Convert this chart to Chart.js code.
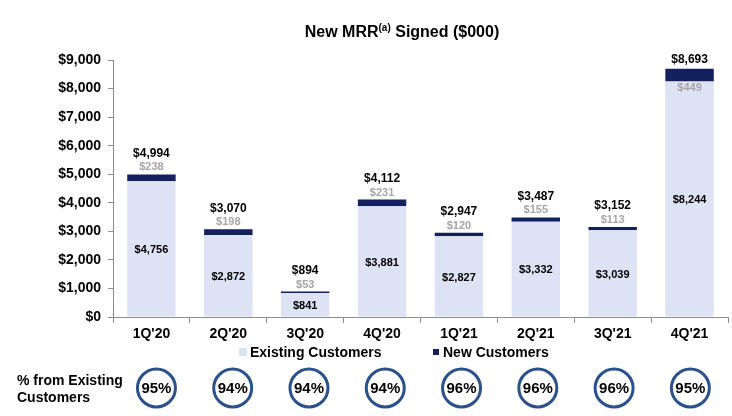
<!DOCTYPE html>
<html>
<head>
<meta charset="utf-8">
<script src="https://cdn.jsdelivr.net/npm/chart.js@4/dist/chart.umd.min.js"></script>
<style>
  body { margin: 0; background: #fff; }
  #wrap { width: 732px; height: 416px; position: relative; }
</style>
</head>
<body>
<div id="wrap"><canvas id="mrrChart"></canvas></div>
<script>
const categories = ["1Q'20", "2Q'20", "3Q'20", "4Q'20", "1Q'21", "2Q'21", "3Q'21", "4Q'21"];
const existingCustomers = [4756, 2872, 841, 3881, 2827, 3332, 3039, 8244];
const newCustomers = [238, 198, 53, 231, 120, 155, 113, 449];
const totals = [4994, 3070, 894, 4112, 2947, 3487, 3152, 8693];
const pctFromExisting = [95, 94, 94, 94, 96, 96, 96, 95];
const yTicks = [0, 1000, 2000, 3000, 4000, 5000, 6000, 7000, 8000, 9000];

const FONT = '"Liberation Sans", Arial, sans-serif';
const LIGHT = '#dde3f5';
const DARK = '#15205e';
const RING = '#2a5189';

const money = v => '$' + v.toLocaleString('en-US');

// labels, title, legend and the circle row
const extras = {
    id: 'extras',
    afterDraw(chart) {
        const ctx = chart.ctx;
        const x = chart.scales.x;
        const y = chart.scales.y;
        ctx.save();
        ctx.textAlign = 'center';
        ctx.textBaseline = 'middle';

        // title
        ctx.fillStyle = '#000';
        ctx.font = 'bold 16px ' + FONT;
        ctx.textAlign = 'left';
        const t1 = 'New MRR', t2 = '(a)', t3 = ' Signed ($000)';
        const w1 = ctx.measureText(t1).width;
        const w3 = ctx.measureText(t3).width;
        ctx.font = 'bold 10px ' + FONT;
        const w2 = ctx.measureText(t2).width;
        let tx = 402 - (w1 + w2 + w3) / 2;
        ctx.font = 'bold 16px ' + FONT;
        ctx.fillText(t1, tx, 33);
        ctx.font = 'bold 10px ' + FONT;
        ctx.fillText(t2, tx + w1, 28);
        ctx.font = 'bold 16px ' + FONT;
        ctx.fillText(t3, tx + w1 + w2, 33);
        ctx.textAlign = 'center';

        categories.forEach((c, i) => {
            const cx = x.getPixelForValue(i);
            const top = y.getPixelForValue(totals[i]);
            const exTop = y.getPixelForValue(existingCustomers[i]);
            const base = y.getPixelForValue(0);
            const inside = i === categories.length - 1;

            ctx.font = 'bold 12px ' + FONT;
            ctx.fillStyle = '#000';
            ctx.fillText(money(totals[i]), cx, inside ? top - 9 : top - 21);

            ctx.font = 'bold 11px ' + FONT;
            ctx.fillStyle = '#a6a6a6';
            ctx.fillText(money(newCustomers[i]), cx, inside ? exTop + 6 : top - 7);

            ctx.fillStyle = '#000';
            ctx.fillText(money(existingCustomers[i]), cx, (exTop + base) / 2 + 1);

            // circle row
            const ccx = cx + 5 - i * 0.6;
            ctx.beginPath();
            ctx.arc(ccx, 388, 19, 0, Math.PI * 2);
            ctx.lineWidth = 3;
            ctx.strokeStyle = RING;
            ctx.stroke();
            ctx.font = 'bold 15px ' + FONT;
            ctx.fillStyle = '#000';
            ctx.fillText(pctFromExisting[i] + '%', ccx, 389);
        });

        // legend
        ctx.textAlign = 'left';
        ctx.font = 'bold 14px ' + FONT;
        ctx.fillStyle = LIGHT;
        ctx.fillRect(239, 348, 8, 8);
        ctx.fillStyle = '#000';
        ctx.fillText('Existing Customers', 250, 353);
        ctx.fillStyle = DARK;
        ctx.fillRect(433, 349, 6, 6);
        ctx.fillStyle = '#000';
        ctx.fillText('New Customers', 443, 353);

        // row caption
        ctx.fillText('% from Existing', 17, 381);
        ctx.fillText('Customers', 17, 398);
        ctx.restore();
    }
};

new Chart(document.getElementById('mrrChart'), {
    type: 'bar',
    data: {
        labels: categories,
        datasets: [
            {
                label: 'Existing Customers',
                data: existingCustomers,
                backgroundColor: LIGHT,
                barPercentage: 0.63,
                categoryPercentage: 1
            },
            {
                label: 'New Customers',
                data: newCustomers,
                backgroundColor: DARK,
                barPercentage: 0.63,
                categoryPercentage: 1
            }
        ]
    },
    options: {
        responsive: true,
        maintainAspectRatio: false,
        animation: false,
        layout: { padding: { top: 60, right: 4, left: 0, bottom: 0 } },
        plugins: {
            legend: { display: false },
            tooltip: { enabled: false }
        },
        scales: {
            x: {
                stacked: true,
                afterFit: s => { s.height = 99; },
                grid: { drawOnChartArea: false, color: '#8c8c8c', tickLength: 6, offset: true },
                border: { color: '#8c8c8c' },
                ticks: { color: '#000', padding: 3, font: { family: FONT, size: 14, weight: 'bold' } }
            },
            y: {
                stacked: true,
                min: 0,
                max: 9000,
                afterFit: s => { s.width = 113; },
                afterBuildTicks: s => { s.ticks = yTicks.map(v => ({ value: v })); },
                grid: { drawOnChartArea: false, color: '#8c8c8c', tickLength: 5 },
                border: { color: '#8c8c8c' },
                ticks: {
                    color: '#000',
                    padding: 7,
                    font: { family: FONT, size: 14, weight: 'bold' },
                    callback: v => money(v)
                }
            }
        }
    },
    plugins: [extras]
});
</script>
</body>
</html>
